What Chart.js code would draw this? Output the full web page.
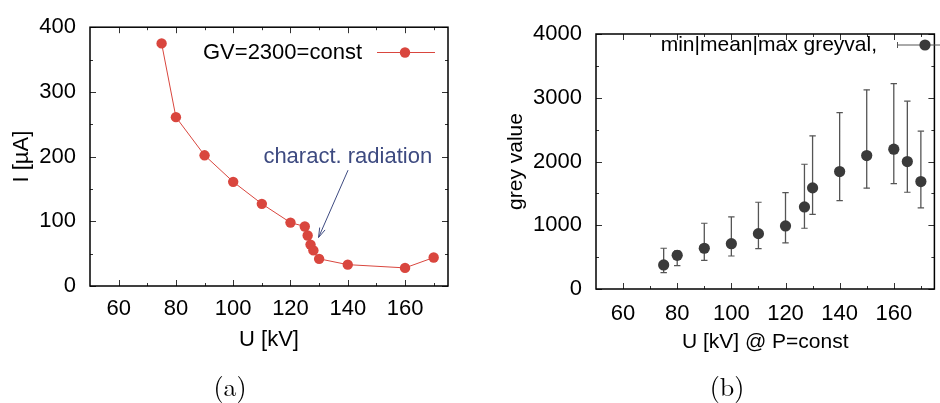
<!DOCTYPE html>
<html><head><meta charset="utf-8">
<script src="https://cdn.jsdelivr.net/npm/chart.js@4"></script>
<style>
html,body{margin:0;padding:0;background:#fff;width:940px;height:403px;overflow:hidden;position:relative}
canvas{position:absolute;top:0}
#c1{left:0}
#c2{left:470px}
.cap{position:absolute;font-family:"Latin Modern Roman","Liberation Serif","DejaVu Serif",serif;font-size:26px;color:#000;transform:translate(-50%,-50%);white-space:nowrap}
</style></head><body>
<canvas id="c1" width="470" height="403"></canvas>
<canvas id="c2" width="470" height="403"></canvas>
<div class="cap" style="left:230px;top:385px">(a)</div>
<div class="cap" style="left:727px;top:385px">(b)</div>
<script>
// ---- data: chart (a)
const uA = [75, 80, 90, 100, 110, 120, 125, 126, 127, 128, 130, 140, 160, 170];
const currentA = [375, 261, 202, 161, 127, 98, 92, 78, 64, 55, 42, 33, 28, 44];
const xTicks = [60, 80, 100, 120, 140, 160];
const xMinor = [70, 90, 110, 130, 150, 170];
const yTicksA = [0, 100, 200, 300, 400];
const yMinorA = [50, 150, 250, 350];
const legendA = 'GV=2300=const';
const annotText = 'charact. radiation';
const annotTextPos = [140, 199];
const annotArrowFrom = [140.1, 179];
const annotArrowTo = [129.8, 75];

// ---- data: chart (b)
const uB = [75, 80, 90, 100, 110, 120, 127, 130, 140, 150, 160, 165, 170];
const greyMean = [377, 529, 639, 711, 868, 989, 1287, 1586, 1842, 2093, 2193, 1999, 1685];
const greyMin = [256, 366, 450, 518, 633, 722, 953, 1172, 1387, 1581, 1653, 1518, 1272];
const greyMax = [639, 600, 1031, 1130, 1361, 1512, 1957, 2402, 2768, 3124, 3223, 2947, 2476];
const yTicksB = [0, 1000, 2000, 3000, 4000];
const yMinorB = [500, 1500, 2500, 3500];
const legendB = 'min|mean|max greyval,';

const FONT = '"Liberation Sans", Arial, sans-serif';
const FS = 22;
const FSB = 21;
const RED = '#d9463e';
const DARK = '#3a3a3a';
const EBAR = '#555555';
const BLUE = '#3d4a80';

function framePlugin(minorX, minorY) {
  return {
    id: 'frame',
    afterDatasetsDraw(chart) {
      const {ctx, chartArea: a, scales: {x, y}} = chart;
      ctx.save();
      ctx.strokeStyle = '#333';
      ctx.lineWidth = 1;
      const tick = (px, len, horiz) => {
        ctx.beginPath();
        if (horiz) {
          ctx.moveTo(Math.round(px) + 0.5, a.bottom); ctx.lineTo(Math.round(px) + 0.5, a.bottom - len);
          ctx.moveTo(Math.round(px) + 0.5, a.top); ctx.lineTo(Math.round(px) + 0.5, a.top + len);
        } else {
          ctx.moveTo(a.left, Math.round(px) + 0.5); ctx.lineTo(a.left + len, Math.round(px) + 0.5);
          ctx.moveTo(a.right, Math.round(px) + 0.5); ctx.lineTo(a.right - len, Math.round(px) + 0.5);
        }
        ctx.stroke();
      };
      x.ticks.forEach(t => tick(x.getPixelForValue(t.value), 6, true));
      minorX.forEach(v => tick(x.getPixelForValue(v), 3, true));
      y.ticks.forEach(t => tick(y.getPixelForValue(t.value), 6, false));
      minorY.forEach(v => tick(y.getPixelForValue(v), 3, false));
      ctx.strokeStyle = '#000';
      ctx.lineWidth = 1.5;
      ctx.strokeRect(a.left, a.top, a.right - a.left, a.bottom - a.top);
      ctx.restore();
    }
  };
}

function baseScales(yTicks, yMin, yMax, yTitle, xTitle, yW, xH, yTitlePad, xTitlePad, xTickPad, titleFS) {
  return {
    x: {
      type: 'linear', min: 50, max: 175,
      grid: {display: false, drawTicks: false},
      border: {display: false},
      afterBuildTicks: s => { s.ticks = xTicks.map(v => ({value: v})); },
      afterFit: s => { s.height = xH; },
      ticks: {padding: xTickPad, color: '#000', font: {family: FONT, size: FS}, maxRotation: 0, autoSkip: false,
              callback: v => String(v)},
      title: {display: true, text: xTitle, color: '#000', font: {family: FONT, size: titleFS}, padding: {top: 0, bottom: xTitlePad}}
    },
    y: {
      type: 'linear', min: yMin, max: yMax,
      grid: {display: false, drawTicks: false},
      border: {display: false},
      afterBuildTicks: s => { s.ticks = yTicks.map(v => ({value: v})); },
      afterFit: s => { s.width = yW; },
      ticks: {padding: 14, color: '#000', font: {family: FONT, size: FS}, autoSkip: false,
              callback: v => String(v)},
      title: {display: true, text: yTitle, color: '#000', font: {family: FONT, size: titleFS}, padding: {top: yTitlePad, bottom: 0}}
    }
  };
}

// ---------- Chart (a)
const annotPlugin = {
  id: 'annotA',
  afterDraw(chart) {
    const {ctx, scales: {x, y}} = chart;
    ctx.save();
    ctx.fillStyle = BLUE;
    ctx.font = FS + 'px ' + FONT;
    ctx.textAlign = 'center';
    ctx.textBaseline = 'middle';
    ctx.fillText(annotText, x.getPixelForValue(annotTextPos[0]), y.getPixelForValue(annotTextPos[1]));
    const x1 = x.getPixelForValue(annotArrowFrom[0]), y1 = y.getPixelForValue(annotArrowFrom[1]);
    const x2 = x.getPixelForValue(annotArrowTo[0]), y2 = y.getPixelForValue(annotArrowTo[1]);
    ctx.strokeStyle = BLUE;
    ctx.lineWidth = 1;
    ctx.beginPath(); ctx.moveTo(x1, y1); ctx.lineTo(x2, y2); ctx.stroke();
    const ang = Math.atan2(y2 - y1, x2 - x1);
    const hl = 10, ha = 0.3;
    ctx.beginPath();
    ctx.moveTo(x2 - hl * Math.cos(ang - ha), y2 - hl * Math.sin(ang - ha));
    ctx.lineTo(x2, y2);
    ctx.lineTo(x2 - hl * Math.cos(ang + ha), y2 - hl * Math.sin(ang + ha));
    ctx.stroke();
    const ly = 52.5;
    ctx.fillStyle = '#000';
    ctx.textAlign = 'right';
    ctx.fillText(legendA, 362, ly);
    ctx.strokeStyle = RED;
    ctx.beginPath(); ctx.moveTo(377, ly); ctx.lineTo(435, ly); ctx.stroke();
    ctx.fillStyle = RED;
    ctx.beginPath(); ctx.arc(405, ly, 5.2, 0, Math.PI * 2); ctx.fill();
    ctx.restore();
  }
};

new Chart(document.getElementById('c1'), {
  type: 'scatter',
  data: {
    datasets: [{
      label: legendA,
      data: uA.map((u, i) => ({x: u, y: currentA[i]})),
      showLine: true,
      borderColor: RED,
      borderWidth: 1,
      backgroundColor: RED,
      pointBackgroundColor: RED,
      pointBorderColor: RED,
      pointRadius: 5.2,
      pointBorderWidth: 0
    }]
  },
  options: {
    responsive: false, animation: false,
    layout: {padding: {left: 0, top: 11, right: 22, bottom: 37}},
    plugins: {legend: {display: false}, tooltip: {enabled: false}},
    scales: baseScales(yTicksA, 0, 400, 'I [µA]', 'U [kV]', 90, 80, 9, 13, 10, FS)
  },
  plugins: [framePlugin(xMinor, yMinorA), annotPlugin]
});

// ---------- Chart (b)
const ebarData = [];
const capData = [];
uB.forEach((u, i) => {
  ebarData.push({x: u, y: greyMin[i]}, {x: u, y: greyMax[i]}, {x: u, y: null});
  capData.push({x: u, y: greyMin[i]}, {x: u, y: greyMax[i]});
});

const legendBPlugin = {
  id: 'legendB',
  afterDraw(chart) {
    const {ctx} = chart;
    ctx.save();
    const ly = 45;
    ctx.fillStyle = '#000';
    ctx.font = FSB + 'px ' + FONT;
    ctx.textAlign = 'right';
    ctx.textBaseline = 'middle';
    ctx.fillText(legendB, 877 - 470, ly);
    ctx.strokeStyle = EBAR;
    ctx.lineWidth = 1;
    ctx.beginPath();
    ctx.moveTo(897 - 470, ly); ctx.lineTo(470, ly);
    ctx.moveTo(897.5 - 470, ly - 3); ctx.lineTo(897.5 - 470, ly + 3);
    ctx.stroke();
    ctx.fillStyle = DARK;
    ctx.beginPath(); ctx.arc(925 - 470, ly, 5.6, 0, Math.PI * 2); ctx.fill();
    ctx.restore();
  }
};

new Chart(document.getElementById('c2'), {
  type: 'scatter',
  data: {
    datasets: [
      {
        label: legendB,
        data: uB.map((u, i) => ({x: u, y: greyMean[i]})),
        backgroundColor: DARK, pointBackgroundColor: DARK, pointBorderColor: DARK,
        pointRadius: 5.6, pointBorderWidth: 0, order: 0
      },
      {
        label: 'range',
        data: ebarData,
        showLine: true, spanGaps: false,
        borderColor: EBAR, borderWidth: 1.3,
        pointRadius: 0, order: 1
      },
      {
        label: 'caps',
        data: capData,
        pointStyle: 'line', pointRadius: 3.2,
        pointBorderColor: EBAR, pointBorderWidth: 1.2, order: 2
      }
    ]
  },
  options: {
    responsive: false, animation: false,
    layout: {padding: {left: 0, top: 34, right: 5, bottom: 34}},
    plugins: {legend: {display: false}, tooltip: {enabled: false}},
    scales: baseScales(yTicksB, 0, 4000, 'grey value', 'U [kV] @ P=const', 126, 80, 34, 14, 12, FSB)
  },
  plugins: [framePlugin(xMinor, yMinorB), legendBPlugin]
});
</script>
</body></html>
